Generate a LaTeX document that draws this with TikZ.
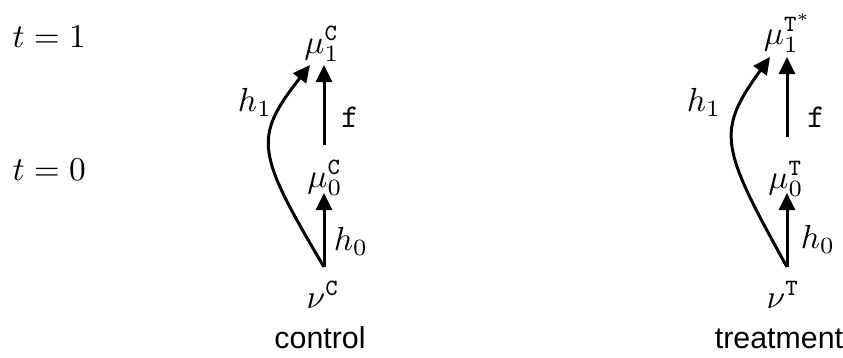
\documentclass[tikz,border=0pt]{standalone}
\usepackage{fontspec}
\newfontfamily\helv{Liberation Sans}
\usetikzlibrary{arrows.meta}
\tikzset{
  lab/.style={inner sep=0pt, anchor=base},
  word/.style={inner sep=0pt, anchor=base, font=\helv\fontsize{9.1}{11}\selectfont},
  arr/.style={line width=0.9pt, -{Triangle[length=5.1pt,width=4.8pt]}},
}
\begin{document}
\begin{tikzpicture}[x=0.3pt,y=-0.3pt]
\useasboundingbox (0,0) rectangle (843,358);
% time labels
\node[lab, anchor=base west] (t1) at (12,47) {$t=1$};
\node[lab, anchor=base west] (t0) at (12,181) {$t=0$};
% control
\node[lab] (muC1) at (322,53) {$\mu_1^{\mathtt{C}}$};
\node[lab] (muC0) at (325,187) {$\mu_0^{\mathtt{C}}$};
\node[lab] (nuC) at (323,308) {$\nu^{\mathtt{C}}$};
\node[word] (ctrl) at (320,348) {control};
\node[lab] (h1C) at (255,112) {$h_1$};
\node[lab] (fC) at (350,128) {$\mathtt{f}$};
\node[lab] (h0C) at (351,250) {$h_0$};
\coordinate (cB) at (324,267);
\coordinate (cM) at (324,193);
\coordinate (cF) at (324,145);
\coordinate (cT) at (324,65);
\coordinate (cC) at (310,65);
\draw[arr] (cB) -- (cM);
\draw[arr] (cF) -- (cT);
\draw[arr] (cB) .. controls (256,152) and (253,138) .. (cC);
% treatment
\node[lab] (muT1) at (788,44) {$\mu_1^{\mathtt{T}^*}$};
\node[lab] (muT0) at (786,188) {$\mu_0^{\mathtt{T}}$};
\node[lab] (nuT) at (783,308) {$\nu^{\mathtt{T}}$};
\node[word] (trt) at (779,348) {treatment};
\node[lab] (h1T) at (704,112) {$h_1$};
\node[lab] (fT) at (816,128) {$\mathtt{f}$};
\node[lab] (h0T) at (818,248) {$h_0$};
\coordinate (tB) at (787,267);
\coordinate (tM) at (787,193);
\coordinate (tF) at (787,137);
\coordinate (tT) at (787,57);
\coordinate (tC) at (770,57);
\draw[arr] (tB) -- (tM);
\draw[arr] (tF) -- (tT);
\draw[arr] (tB) .. controls (720,146) and (716,132) .. (tC);
\end{tikzpicture}
\end{document}
